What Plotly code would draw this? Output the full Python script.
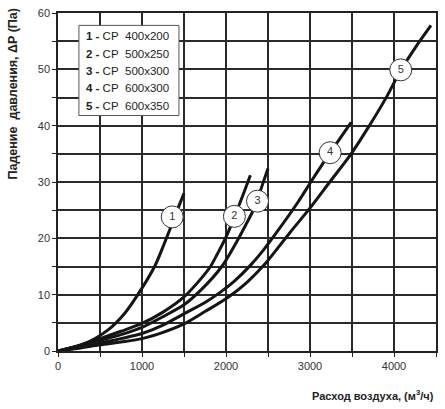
import plotly.graph_objects as go

# Curve data (air flow m3/h, pressure drop Pa)
c1_x = [0, 300, 600, 800, 950, 1150, 1290, 1420, 1500]
c1_y = [0, 1.2, 3.8, 6.8, 10.0, 15.0, 20.0, 25.0, 28.0]

c2_x = [0, 250, 500, 750, 1000, 1250, 1500, 1700, 1815, 1900, 2000, 2100, 2200, 2290]
c2_y = [0, 1.0, 2.2, 3.5, 4.9, 6.9, 9.6, 12.8, 15.0, 17.3, 20.2, 23.8, 27.6, 31.2]

c3_x = [0, 250, 500, 750, 1000, 1250, 1500, 1700, 1950, 2150, 2250, 2340, 2440, 2500]
c3_y = [0, 0.9, 1.9, 2.9, 4.2, 6.1, 8.2, 10.8, 15.0, 20.0, 22.8, 25.5, 29.8, 32.4]

c4_x = [0, 250, 500, 750, 1000, 1250, 1500, 1750, 1930, 2100, 2290, 2450, 2600, 2860, 3010, 3240, 3490]
c4_y = [0, 0.6, 1.4, 2.2, 3.1, 4.6, 6.6, 8.6, 10.4, 12.4, 15.2, 18.0, 21.0, 26.5, 30.0, 35.2, 40.6]

c5_x = [0, 250, 500, 750, 1000, 1250, 1500, 1750, 2030, 2250, 2450, 2760, 2980, 3235, 3490, 3690, 3900, 4080, 4260, 4440]
c5_y = [0, 0.5, 1.1, 1.6, 2.2, 3.3, 4.8, 7.0, 9.6, 12.2, 15.2, 21.0, 25.0, 30.0, 35.0, 39.6, 44.8, 49.8, 54.0, 57.8]

curves = [(c1_x, c1_y), (c2_x, c2_y), (c3_x, c3_y), (c4_x, c4_y), (c5_x, c5_y)]

# Curve number labels
label_text = ["1", "2", "3", "4", "5"]
label_x = [1360, 2100, 2375, 3240, 4080]
label_y = [23.8, 23.9, 26.6, 35.2, 49.9]

# Legend entries
legend_num = ["1", "2", "3", "4", "5"]
legend_name = ["400x200", "500x250", "500x300", "600x300", "600x350"]

# Ticks
x_ticks = list(range(0, 4501, 500))
x_text = [str(v) if v % 1000 == 0 else "" for v in x_ticks]
y_ticks = list(range(0, 61, 5))
y_text = [str(v) if v % 10 == 0 else "" for v in y_ticks]

FONT = "Arial, Liberation Sans, sans-serif"

fig = go.Figure()
for cx, cy in curves:
    fig.add_trace(go.Scatter(x=cx, y=cy, mode="lines",
                             line=dict(color="#151515", width=3, shape="spline", smoothing=0.8),
                             showlegend=False, hoverinfo="skip"))

fig.add_trace(go.Scatter(x=label_x, y=label_y, mode="markers+text", text=label_text,
                         textposition="middle center",
                         textfont=dict(family=FONT, size=11, color="#333"),
                         marker=dict(symbol="circle", size=22, color="white",
                                     line=dict(color="#333", width=1)),
                         showlegend=False, hoverinfo="skip"))

# Legend box
fig.add_shape(type="rect", xref="x", yref="y", x0=249, x1=1440, y0=41.8, y1=57.8,
              fillcolor="white", line=dict(color="#555", width=1), layer="above")
leg_y = [55.9, 52.8, 49.7, 46.6, 43.5]
for n, name, yy in zip(legend_num, legend_name, leg_y):
    fig.add_annotation(x=304, y=yy, xref="x", yref="y", xanchor="left", yanchor="middle",
                       text=f"<b>{n} -</b> CP\u00a0\u00a0{name}", showarrow=False,
                       font=dict(family=FONT, size=11.5, color="#222"))

# Axis titles
fig.add_annotation(x=0, y=1, xref="paper", yref="paper", xanchor="center", yanchor="top",
                   xshift=-46, yshift=6,
                   text="<b>Падение\u00a0\u00a0давления, ΔP (Па)</b>", showarrow=False, textangle=-90,
                   font=dict(family=FONT, size=12.5, color="#222"))
fig.add_annotation(x=1, y=0, xref="paper", yref="paper", xanchor="right", yanchor="middle",
                   yshift=-44, text="<b>Расход воздуха, (м<sup>3</sup>/ч)</b>", showarrow=False,
                   font=dict(family=FONT, size=11, color="#222"))

axis_common = dict(showgrid=True, gridcolor="#2a2a2a", gridwidth=2,
                   showline=True, linecolor="#222", linewidth=1.5, mirror=True,
                   ticks="outside", ticklen=4, tickcolor="#222", tickwidth=1,
                   zeroline=False,
                   tickfont=dict(family=FONT, size=11, color="#333"))

fig.update_xaxes(range=[0, 4500], tickmode="array", tickvals=x_ticks, ticktext=x_text, **axis_common)
fig.update_yaxes(range=[0, 60], tickmode="array", tickvals=y_ticks, ticktext=y_text, **axis_common)

fig.update_layout(width=445, height=409, margin=dict(l=58, r=7, t=10, b=58),
                  paper_bgcolor="white", plot_bgcolor="white")

fig.write_html("out.html")
